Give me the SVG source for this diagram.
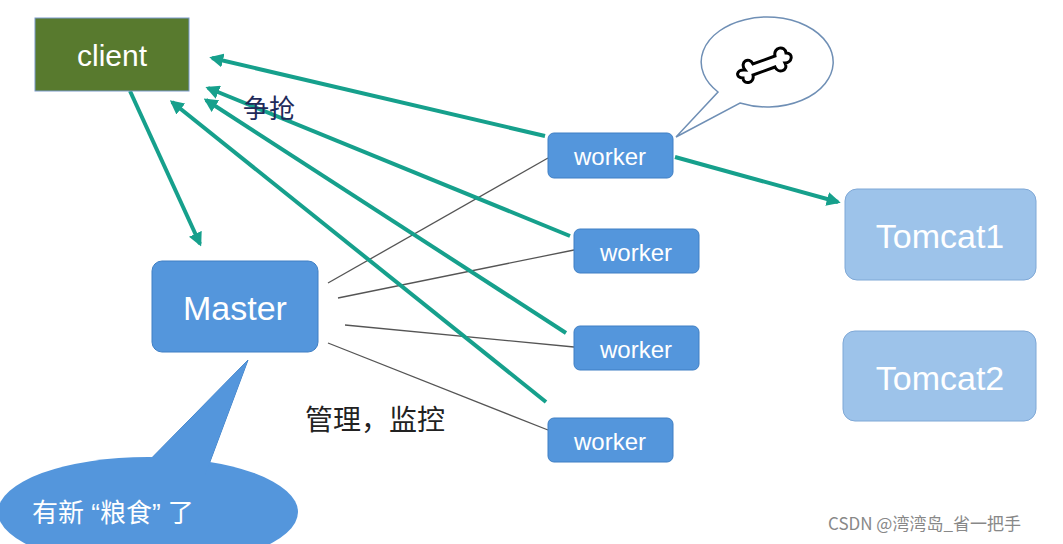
<svg xmlns="http://www.w3.org/2000/svg" width="1063" height="544" viewBox="0 0 1063 544">
<defs>
<style>
.w{fill:#5496dc;stroke:#3f7fc4;stroke-width:1}
.t{fill:#fff;font-family:"Liberation Sans","Noto Sans CJK SC",sans-serif}
.g{stroke:#16a08c;stroke-width:4;fill:none;marker-end:url(#a)}
.m{stroke:#555;stroke-width:1.3}
</style>
<marker id="a" viewBox="0 0 10 10" refX="8" refY="5" markerWidth="3.5" markerHeight="3.5" orient="auto"><path d="M0,0L10,5L0,10z" fill="#16a08c"/></marker>
</defs>
<rect width="1063" height="544" fill="#fff"/>
<g id="bubble">
<path d="M676,137 L718,92 A66,45 0 1 1 740,103 Z" fill="#fff" stroke="#6f8fb5" stroke-width="1.5"/>
<path d="M745,70 c-6,-8 4,-14 8,-6 l22,-8 c-2,-9 10,-11 11,-3 c8,0 6,10 -1,10 c4,8 -7,11 -10,4 l-22,8 c2,9 -10,10 -10,3 c-8,0 -7,-9 2,-8z" fill="#fff" stroke="#000" stroke-width="3"/>
</g>
<g id="connectors">
<line class="m" x1="328" y1="283" x2="548" y2="158"/>
<line class="m" x1="338" y1="298" x2="574" y2="250"/>
<line class="m" x1="345" y1="325" x2="574" y2="347"/>
<line class="m" x1="328" y1="343" x2="548" y2="430"/>
<line class="g" x1="545" y1="136" x2="212" y2="58"/>
<line class="g" x1="570" y1="236" x2="208" y2="88"/>
<line class="g" x1="566" y1="333" x2="206" y2="100"/>
<line class="g" x1="546" y1="402" x2="172" y2="102"/>
<line class="g" x1="130" y1="91" x2="200" y2="244"/>
<line class="g" x1="675" y1="157" x2="838" y2="202"/>
</g>
<g id="client"><rect x="35" y="18" width="154" height="73" fill="#587a2e" stroke="#7a9acc"/><text class="t" x="112" y="66" font-size="30" text-anchor="middle" fill="#eef">client</text></g>
<g id="master"><rect class="w" x="152" y="261" width="166" height="91" rx="10"/><text class="t" x="235" y="320" font-size="34" text-anchor="middle">Master</text></g>
<g id="worker1"><rect class="w" x="548" y="133" width="125" height="45" rx="6"/><text class="t" x="610" y="165" font-size="24" text-anchor="middle">worker</text></g>
<g id="worker2"><rect class="w" x="574" y="229" width="125" height="44" rx="6"/><text class="t" x="636" y="261" font-size="24" text-anchor="middle">worker</text></g>
<g id="worker3"><rect class="w" x="574" y="326" width="125" height="44" rx="6"/><text class="t" x="636" y="358" font-size="24" text-anchor="middle">worker</text></g>
<g id="worker4"><rect class="w" x="548" y="418" width="125" height="44" rx="6"/><text class="t" x="610" y="450" font-size="24" text-anchor="middle">worker</text></g>
<g id="tomcat1"><rect x="845" y="189" width="191" height="91" rx="12" fill="#9dc3ea" stroke="#7fa8d6"/><text class="t" x="940" y="248" font-size="34" text-anchor="middle">Tomcat1</text></g>
<g id="tomcat2"><rect x="843" y="331" width="193" height="90" rx="12" fill="#9dc3ea" stroke="#7fa8d6"/><text class="t" x="940" y="390" font-size="34" text-anchor="middle">Tomcat2</text></g>
<g id="callout">
<path d="M248,360 L205,475 L135,475 Z" fill="#5496dc" stroke="#3f7fc4"/>
<ellipse cx="148" cy="512" rx="150" ry="55" fill="#5496dc"/>
<path d="M248,360 L205,475 L135,475 Z" fill="#5496dc"/>
<text class="t" x="32" y="522" font-size="26" xml:space="preserve">有新 “粮食” 了</text>
</g>
<text x="243" y="118" font-size="26" fill="#1f2a5a" font-family="Noto Sans CJK SC,sans-serif">争抢</text>
<text x="305" y="430" font-size="28" fill="#222" font-family="Noto Sans CJK SC,sans-serif">管理，监控</text>
<text x="828" y="530" font-size="17" fill="#888" font-family="Noto Sans CJK SC,sans-serif">CSDN @湾湾岛_省一把手</text>
</svg>
